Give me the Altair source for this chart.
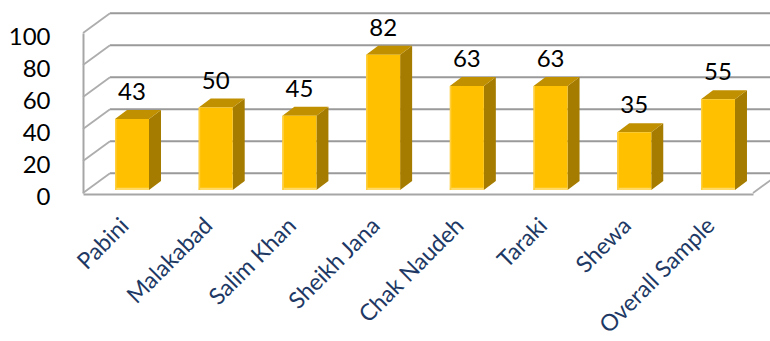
import json

import altair as alt
import pandas as pd

# Share of respondents by village (%)
categories = ["Pabini", "Malakabad", "Salim Khan", "Sheikh Jana",
              "Chak Naudeh", "Taraki", "Shewa", "Overall Sample"]
shares = [43, 50, 45, 82, 63, 63, 35, 55]
y_ticks = [0, 20, 40, 60, 80, 100]

# ---- layout (pixels) ----
PAD_L, PAD_R, PAD_T, PAD_B = 83, 17, 0, 147
VIEW_W, VIEW_H = 670, 194
STEP = 83.71            # distance between bar centres
FIRST = 49.0            # first bar centre from the left of the view
X_DOMAIN = [-FIRST / STEP, (VIEW_W - FIRST) / STEP]

HALF = 17 / STEP        # half width of a bar's front face
DEPTH_X = 12 / STEP     # bar depth, horizontal component
BAR_PX = 1.65           # pixels per percentage point on the bar plane
DEPTH_Y = 9 / BAR_PX    # bar depth, vertical component
WALL_X = 27 / STEP      # wall depth, horizontal component
WALL_Y = 12.3           # wall depth, vertical component (wall units)

x_scale = alt.Scale(domain=X_DOMAIN, nice=False, zero=False)
bar_scale = alt.Scale(domain=[0, 100], range=[190, 25], nice=False, zero=False)
wall_scale = alt.Scale(domain=[0, 100], range=[193, 33], nice=False, zero=False)

FONT = "Lato"
GOLD = "#FFC000"
GOLD_TOP = "#C09000"
GOLD_SIDE = "#A67C00"
GOLD_LIGHT = "#FFD966"

x_axis = alt.Axis(
    values=list(range(len(categories))),
    labelExpr=json.dumps(categories) + "[datum.value]",
    labelAngle=-45, labelAlign="right", labelBaseline="top",
    labelOffset=-15, labelPadding=20, ticks=False, tickSize=0, grid=False,
    labelOverlap=False, labelFlush=False, labelBound=False,
    labelFont=FONT, labelFontSize=23, labelColor="#203864",
    domainColor="#A6A6A6", domainWidth=2, title=None,
)
y_axis = alt.Axis(
    values=y_ticks, grid=False, ticks=False, tickSize=0,
    labelPadding=33, labelOffset=4, labelOverlap=False, labelFlush=False,
    labelFont=FONT, labelFontSize=24, labelColor="#000000",
    domainColor="#A6A6A6", domainWidth=2, title=None,
)

# ---- walls: back gridlines, side-wall diagonals, floor edge ----
back_grid = pd.DataFrame({
    "gx0": [X_DOMAIN[0] + WALL_X] * len(y_ticks),
    "gx1": [X_DOMAIN[1] + WALL_X + 0.1] * len(y_ticks),
    "gy": [g + WALL_Y for g in y_ticks],
})
diag_rows = [{"dx0": X_DOMAIN[0], "dx1": X_DOMAIN[0] + WALL_X,
              "dy0": g, "dy1": g + WALL_Y} for g in y_ticks]
diag_rows.append({"dx0": X_DOMAIN[1], "dx1": X_DOMAIN[1] + WALL_X,
                  "dy0": 0, "dy1": WALL_Y})
diagonals = pd.DataFrame(diag_rows)

grid_layer = alt.Chart(back_grid).mark_rule(color="#9A9A9A", strokeWidth=2).encode(
    x=alt.X("gx0:Q", scale=x_scale, axis=x_axis),
    x2="gx1:Q",
    y=alt.Y("gy:Q", scale=wall_scale, axis=y_axis),
)
diag_layer = alt.Chart(diagonals).mark_rule(color="#ADADAD", strokeWidth=1.8).encode(
    x=alt.X("dx0:Q", scale=x_scale, axis=x_axis),
    x2="dx1:Q",
    y=alt.Y("dy0:Q", scale=wall_scale, axis=y_axis),
    y2="dy1:Q",
)
walls = alt.layer(grid_layer, diag_layer)

# ---- bars: front face, side face, top face, labels ----
front = pd.DataFrame({
    "name": categories,
    "i": list(range(len(categories))),
    "v": shares,
})
front["x0"] = front["i"] - HALF
front["x1"] = front["i"] + HALF
front["zero"] = 0.0
front["strip"] = 1.3
front["edge"] = front["x0"] + 1.5 / STEP

side_rows, top_rows = [], []
for i, (n, v) in enumerate(zip(categories, shares)):
    side_rows += [
        {"name": n, "sx": i + HALF, "sy": v, "sy2": 0.0},
        {"name": n, "sx": i + HALF + DEPTH_X, "sy": v + DEPTH_Y, "sy2": DEPTH_Y},
    ]
    top_rows += [
        {"name": n, "ty": v, "tx": i - HALF, "tx2": i + HALF},
        {"name": n, "ty": v + DEPTH_Y, "tx": i - HALF + DEPTH_X, "tx2": i + HALF + DEPTH_X},
    ]
side = pd.DataFrame(side_rows)
top = pd.DataFrame(top_rows)

side_layer = alt.Chart(side).mark_area(color=GOLD_SIDE, opacity=1).encode(
    x=alt.X("sx:Q", scale=x_scale, axis=x_axis),
    y=alt.Y("sy:Q", scale=bar_scale, axis=None),
    y2="sy2:Q",
    detail="name:N",
)
top_layer = alt.Chart(top).mark_area(color=GOLD_TOP, orient="horizontal", opacity=1).encode(
    y=alt.Y("ty:Q", scale=bar_scale, axis=None),
    x=alt.X("tx:Q", scale=x_scale, axis=x_axis),
    x2="tx2:Q",
    detail="name:N",
)
front_layer = alt.Chart(front).mark_rect(color=GOLD).encode(
    x=alt.X("x0:Q", scale=x_scale, axis=x_axis),
    x2="x1:Q",
    y=alt.Y("v:Q", scale=bar_scale, axis=None),
    y2="zero:Q",
)
strip_layer = alt.Chart(front).mark_rect(color=GOLD_LIGHT).encode(
    x=alt.X("x0:Q", scale=x_scale, axis=x_axis),
    x2="x1:Q",
    y=alt.Y("strip:Q", scale=bar_scale, axis=None),
    y2="zero:Q",
)
edge_layer = alt.Chart(front).mark_rect(color="#FFCF40").encode(
    x=alt.X("x0:Q", scale=x_scale, axis=x_axis),
    x2="edge:Q",
    y=alt.Y("v:Q", scale=bar_scale, axis=None),
    y2="zero:Q",
)
label_layer = alt.Chart(front).mark_text(
    font=FONT, fontSize=24, color="#000000", dy=-26, baseline="middle", align="center"
).encode(
    x=alt.X("i:Q", scale=x_scale, axis=x_axis),
    y=alt.Y("v:Q", scale=bar_scale, axis=None),
    text="v:Q",
)
bars = alt.layer(side_layer, top_layer, front_layer, strip_layer, edge_layer, label_layer)

chart = (
    alt.layer(walls, bars)
    .resolve_scale(y="independent")
    .properties(
        width=VIEW_W,
        height=VIEW_H,
        padding={"left": PAD_L, "right": PAD_R, "top": PAD_T, "bottom": PAD_B},
        autosize=alt.AutoSizeParams(type="none"),
        background="white",
    )
    .configure_view(stroke=None)
)

chart.save("out.html", embed_options={"renderer": "svg", "actions": False})
